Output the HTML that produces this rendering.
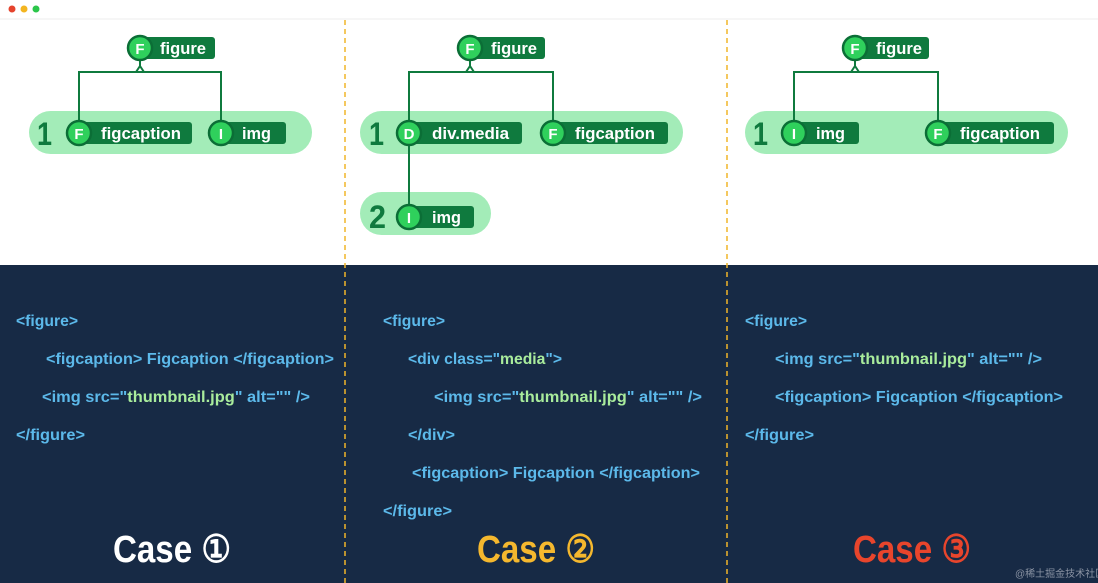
<!DOCTYPE html>
<html><head><meta charset="utf-8"><style>
html,body{margin:0;padding:0;background:#fff;width:1098px;height:583px;overflow:hidden}
svg{display:block}
.lbl{font-family:"Liberation Sans",sans-serif;font-size:17px;fill:#fff;font-weight:bold}
.ltr{font-family:"Liberation Sans",sans-serif;font-size:15px;fill:#fff;font-weight:bold}
.num{font-family:"Liberation Sans",sans-serif;font-size:32px;fill:#0f7a3e;font-weight:bold}
.code{font-family:"Liberation Sans",sans-serif;font-size:16px;font-weight:bold;fill:#5cb9ea}
.str{fill:#a9ec9c}
.case{font-family:"Liberation Sans",sans-serif;font-size:38px;font-weight:bold}
</style></head><body>
<svg width="1098" height="583" viewBox="0 0 1098 583" xmlns="http://www.w3.org/2000/svg">
<rect x="0" y="0" width="1098" height="583" fill="#fff"/>
<line x1="0" y1="19" x2="1098" y2="19" stroke="#eee"/>
<circle cx="12" cy="9" r="3.5" fill="#e5432d"/>
<circle cx="24" cy="9" r="3.5" fill="#f3b520"/>
<circle cx="36" cy="9" r="3.5" fill="#2bc64a"/>
<rect x="0" y="265" width="1098" height="318" fill="#172a45"/>

<g fill="#a3ecb8">
<rect x="29" y="111" width="283" height="43" rx="21.5"/>
<rect x="360" y="111" width="323" height="43" rx="21.5"/>
<rect x="360" y="192" width="131" height="43" rx="21.5"/>
<rect x="745" y="111" width="323" height="43" rx="21.5"/>
</g>
<g>
<text x="37" y="145" class="num" textLength="15" lengthAdjust="spacingAndGlyphs">1</text>
<text x="369" y="145" class="num" textLength="15" lengthAdjust="spacingAndGlyphs">1</text>
<text x="369" y="228" class="num" textLength="17" lengthAdjust="spacingAndGlyphs">2</text>
<text x="753" y="145" class="num" textLength="15" lengthAdjust="spacingAndGlyphs">1</text>
</g>

<g fill="none" stroke="#0f7a3e" stroke-width="2">
<path d="M140 60 V66 L136 72 M140 66 L144 72 M79 133 V72 H221 V133"/>
<path d="M470 60 V66 L466 72 M470 66 L474 72 M409 133 V72 H553 V133 M409 133 V217"/>
<path d="M855 60 V66 L851 72 M855 66 L859 72 M794 133 V72 H938 V133"/>
</g>

<g>
<rect x="140" y="37" width="75" height="22" rx="3" fill="#0f7a3e"/><circle cx="140" cy="48" r="12" fill="#2fd05c" stroke="#0b6e36" stroke-width="2.5"/><text x="140" y="54" text-anchor="middle" class="ltr">F</text><text x="160" y="54" class="lbl" textLength="46" lengthAdjust="spacingAndGlyphs">figure</text>
<rect x="79" y="122" width="113" height="22" rx="3" fill="#0f7a3e"/><circle cx="79" cy="133" r="12" fill="#2fd05c" stroke="#0b6e36" stroke-width="2.5"/><text x="79" y="139" text-anchor="middle" class="ltr">F</text><text x="101" y="139" class="lbl" textLength="80" lengthAdjust="spacingAndGlyphs">figcaption</text>
<rect x="221" y="122" width="65" height="22" rx="3" fill="#0f7a3e"/><circle cx="221" cy="133" r="12" fill="#2fd05c" stroke="#0b6e36" stroke-width="2.5"/><text x="221" y="139" text-anchor="middle" class="ltr">I</text><text x="242" y="139" class="lbl" textLength="29" lengthAdjust="spacingAndGlyphs">img</text>

<rect x="470" y="37" width="75" height="22" rx="3" fill="#0f7a3e"/><circle cx="470" cy="48" r="12" fill="#2fd05c" stroke="#0b6e36" stroke-width="2.5"/><text x="470" y="54" text-anchor="middle" class="ltr">F</text><text x="491" y="54" class="lbl" textLength="46" lengthAdjust="spacingAndGlyphs">figure</text>
<rect x="409" y="122" width="113" height="22" rx="3" fill="#0f7a3e"/><circle cx="409" cy="133" r="12" fill="#2fd05c" stroke="#0b6e36" stroke-width="2.5"/><text x="409" y="139" text-anchor="middle" class="ltr">D</text><text x="432" y="139" class="lbl" textLength="77" lengthAdjust="spacingAndGlyphs">div.media</text>
<rect x="553" y="122" width="115" height="22" rx="3" fill="#0f7a3e"/><circle cx="553" cy="133" r="12" fill="#2fd05c" stroke="#0b6e36" stroke-width="2.5"/><text x="553" y="139" text-anchor="middle" class="ltr">F</text><text x="575" y="139" class="lbl" textLength="80" lengthAdjust="spacingAndGlyphs">figcaption</text>
<rect x="409" y="206" width="65" height="22" rx="3" fill="#0f7a3e"/><circle cx="409" cy="217" r="12" fill="#2fd05c" stroke="#0b6e36" stroke-width="2.5"/><text x="409" y="223" text-anchor="middle" class="ltr">I</text><text x="432" y="223" class="lbl" textLength="29" lengthAdjust="spacingAndGlyphs">img</text>

<rect x="855" y="37" width="74" height="22" rx="3" fill="#0f7a3e"/><circle cx="855" cy="48" r="12" fill="#2fd05c" stroke="#0b6e36" stroke-width="2.5"/><text x="855" y="54" text-anchor="middle" class="ltr">F</text><text x="876" y="54" class="lbl" textLength="46" lengthAdjust="spacingAndGlyphs">figure</text>
<rect x="794" y="122" width="65" height="22" rx="3" fill="#0f7a3e"/><circle cx="794" cy="133" r="12" fill="#2fd05c" stroke="#0b6e36" stroke-width="2.5"/><text x="794" y="139" text-anchor="middle" class="ltr">I</text><text x="816" y="139" class="lbl" textLength="29" lengthAdjust="spacingAndGlyphs">img</text>
<rect x="938" y="122" width="116" height="22" rx="3" fill="#0f7a3e"/><circle cx="938" cy="133" r="12" fill="#2fd05c" stroke="#0b6e36" stroke-width="2.5"/><text x="938" y="139" text-anchor="middle" class="ltr">F</text><text x="960" y="139" class="lbl" textLength="80" lengthAdjust="spacingAndGlyphs">figcaption</text>
</g>

<g stroke="#f0b52a" stroke-width="1.5" stroke-dasharray="5,4">
<line x1="345" y1="20" x2="345" y2="583"/><line x1="727" y1="20" x2="727" y2="583"/>
</g>

<g class="code">
<text x="16" y="326" textLength="62" lengthAdjust="spacingAndGlyphs">&lt;figure&gt;</text>
<text x="46" y="364" textLength="288" lengthAdjust="spacingAndGlyphs">&lt;figcaption&gt; Figcaption &lt;/figcaption&gt;</text>
<text x="42" y="402" textLength="268" lengthAdjust="spacingAndGlyphs">&lt;img src="<tspan class="str">thumbnail.jpg</tspan>" alt="" /&gt;</text>
<text x="16" y="440" textLength="69" lengthAdjust="spacingAndGlyphs">&lt;/figure&gt;</text>

<text x="383" y="326" textLength="62" lengthAdjust="spacingAndGlyphs">&lt;figure&gt;</text>
<text x="408" y="364" textLength="154" lengthAdjust="spacingAndGlyphs">&lt;div class="<tspan class="str">media</tspan>"&gt;</text>
<text x="434" y="402" textLength="268" lengthAdjust="spacingAndGlyphs">&lt;img src="<tspan class="str">thumbnail.jpg</tspan>" alt="" /&gt;</text>
<text x="408" y="440" textLength="47" lengthAdjust="spacingAndGlyphs">&lt;/div&gt;</text>
<text x="412" y="478" textLength="288" lengthAdjust="spacingAndGlyphs">&lt;figcaption&gt; Figcaption &lt;/figcaption&gt;</text>
<text x="383" y="516" textLength="69" lengthAdjust="spacingAndGlyphs">&lt;/figure&gt;</text>

<text x="745" y="326" textLength="62" lengthAdjust="spacingAndGlyphs">&lt;figure&gt;</text>
<text x="775" y="364" textLength="267" lengthAdjust="spacingAndGlyphs">&lt;img src="<tspan class="str">thumbnail.jpg</tspan>" alt="" /&gt;</text>
<text x="775" y="402" textLength="288" lengthAdjust="spacingAndGlyphs">&lt;figcaption&gt; Figcaption &lt;/figcaption&gt;</text>
<text x="745" y="440" textLength="69" lengthAdjust="spacingAndGlyphs">&lt;/figure&gt;</text>
</g>

<text x="113" y="562" class="case" fill="#fff" textLength="118" lengthAdjust="spacingAndGlyphs">Case ①</text>
<text x="477" y="562" class="case" fill="#f5b82e" textLength="118" lengthAdjust="spacingAndGlyphs">Case ②</text>
<text x="853" y="562" class="case" fill="#e8452c" textLength="118" lengthAdjust="spacingAndGlyphs">Case ③</text>
<text x="1015" y="577" font-family="'Liberation Sans','Noto Sans CJK SC',sans-serif" font-size="10" fill="#8a93a3">@稀土掘金技术社区</text>
</svg>
</body></html>
